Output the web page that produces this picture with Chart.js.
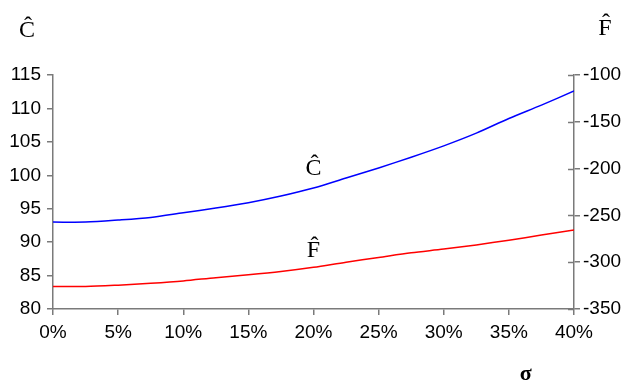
<!DOCTYPE html>
<html>
<head>
<meta charset="utf-8">
<script src="https://cdn.jsdelivr.net/npm/chart.js@4/dist/chart.umd.min.js"></script>
<style>
  html, body { margin: 0; padding: 0; background: #fff; }
  #wrap { width: 630px; height: 387px; position: relative; }
</style>
</head>
<body>
<div id="wrap"><canvas id="c" width="630" height="387"></canvas></div>
<script>
// Volatility levels (sigma) on the horizontal axis
const sigma = [0, 0.025, 0.05, 0.075, 0.10, 0.125, 0.15, 0.175, 0.20, 0.225, 0.25, 0.275, 0.30, 0.325, 0.35, 0.375, 0.40];
// C-hat, read against the left axis
const cHat = [93.0, 93.0, 93.3, 93.7, 94.4, 95.1, 95.9, 96.9, 98.1, 99.6, 101.1, 102.7, 104.4, 106.3, 108.5, 110.5, 112.6];
// F-hat, read against the right axis
const fHat = [-326, -326, -324.5, -322.5, -320, -316.5, -313.5, -310, -305.5, -300, -295, -290, -286, -281.5, -276.5, -271, -265.5];
// Axis ranges and tick steps
const xTicks = { min: 0, max: 0.40, step: 0.05 };
const leftTicks = { min: 80, max: 115, step: 5 };
const rightTicks = { min: -350, max: -100, step: 50 };

const AXIS = '#7a7a7a';
const tickFont = { family: 'Liberation Sans, Arial, sans-serif', size: 19 };
const serif = '24px "Liberation Serif", "Times New Roman", serif';

// Text labels: axis names, sigma, and the curve names next to each line
const labelsPlugin = {
  id: 'labels',
  afterDraw(chart) {
    const ctx = chart.ctx;
    const x = chart.scales.x, yl = chart.scales.y, yr = chart.scales.y1;
    ctx.save();
    // right axis ticks also cross into the plot
    ctx.strokeStyle = AXIS;
    ctx.lineWidth = 1.5;
    yr.ticks.forEach(t => {
      const py = Math.round(yr.getPixelForValue(t.value)) + 0.5;
      ctx.beginPath();
      ctx.moveTo(yr.left - 6, py);
      ctx.lineTo(yr.left, py);
      ctx.stroke();
    });
    ctx.fillStyle = '#000';
    ctx.font = serif;
    ctx.textAlign = 'center';
    ctx.textBaseline = 'alphabetic';
    ctx.fillText('\u0108', 27, 37);
    ctx.fillText('F\u0302', 605, 35);
    // curve names placed just above each line at sigma = 20%
    const lx = x.getPixelForValue(0.20);
    ctx.fillText('\u0108', lx, yl.getPixelForValue(cHat[8]) - 13);
    ctx.fillText('F\u0302', lx, yr.getPixelForValue(fHat[8]) - 10);
    ctx.font = 'bold 22px "Liberation Serif", "Times New Roman", serif';
    ctx.fillText('\u03C3', x.getPixelForValue(0.363), 380);
    ctx.restore();
  }
};

new Chart(document.getElementById('c'), {
  type: 'line',
  data: {
    datasets: [
      {
        label: 'C',
        data: sigma.map((s, i) => ({ x: s, y: cHat[i] })),
        borderColor: '#0000ff',
        borderWidth: 1.5,
        pointRadius: 0,
        tension: 0.3,
        yAxisID: 'y'
      },
      {
        label: 'F',
        data: sigma.map((s, i) => ({ x: s, y: fHat[i] })),
        borderColor: '#ff0000',
        borderWidth: 1.5,
        pointRadius: 0,
        tension: 0.3,
        yAxisID: 'y1'
      }
    ]
  },
  options: {
    responsive: false,
    animation: false,
    layout: { padding: { top: 75, left: 0, right: 0, bottom: 0 } },
    plugins: { legend: { display: false }, tooltip: { enabled: false } },
    scales: {
      x: {
        type: 'linear',
        position: 'bottom',
        min: xTicks.min, max: xTicks.max,
        afterFit(s) { s.height = 78; },
        border: { color: AXIS, width: 1.5 },
        grid: { drawOnChartArea: false, drawTicks: true, tickLength: 6, color: AXIS, lineWidth: 1.5 },
        ticks: {
          stepSize: xTicks.step,
          color: '#000',
          font: tickFont,
          padding: 6,
          maxRotation: 0,
          callback: v => Math.round(v * 100) + '%'
        }
      },
      y: {
        position: 'left',
        min: leftTicks.min, max: leftTicks.max,
        afterFit(s) { s.width = 53; },
        border: { color: AXIS, width: 1.5 },
        grid: { drawOnChartArea: false, drawTicks: true, tickLength: 6, color: AXIS, lineWidth: 1.5 },
        ticks: { stepSize: leftTicks.step, color: '#000', font: tickFont, padding: 6 }
      },
      y1: {
        position: 'right',
        min: rightTicks.min, max: rightTicks.max,
        afterFit(s) { s.width = 56; },
        border: { color: AXIS, width: 1.5 },
        grid: { drawOnChartArea: false, drawTicks: true, tickLength: 6, color: AXIS, lineWidth: 1.5 },
        ticks: { stepSize: rightTicks.step, color: '#000', font: tickFont, padding: 3 }
      }
    }
  },
  plugins: [labelsPlugin]
});
</script>
</body>
</html>
